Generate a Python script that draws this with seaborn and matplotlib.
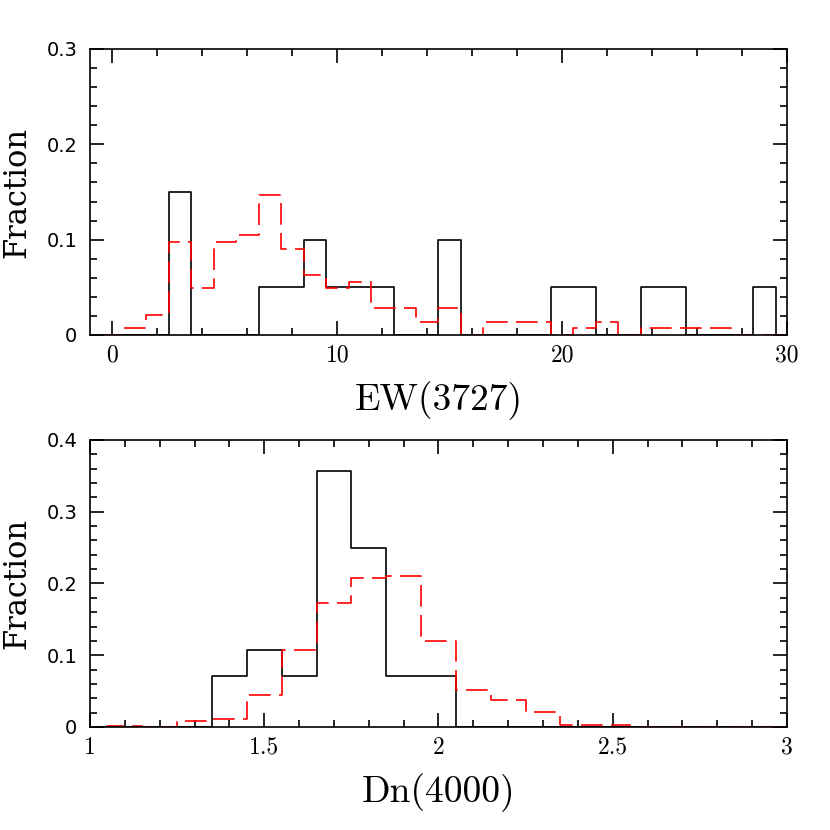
import numpy as np
import pandas as pd
import matplotlib
matplotlib.use('Agg')
import matplotlib.pyplot as plt
from matplotlib.ticker import MultipleLocator, FuncFormatter
import seaborn as sns

# EW(3727) histogram, unit bins centred on 0..30
ew_centers = list(range(0, 31))
ew_sample = [0, 0, 0, 0.15, 0, 0, 0, 0.05, 0.05, 0.1, 0.05, 0.05, 0.05, 0, 0, 0.1,
             0, 0, 0, 0, 0.05, 0.05, 0, 0, 0.05, 0.05, 0, 0, 0, 0.05, 0]
ew_parent = [0, 0.007, 0.021, 0.098, 0.049, 0.098, 0.105, 0.147, 0.090, 0.063, 0.049,
             0.056, 0.028, 0.028, 0.014, 0.028, 0, 0.014, 0.014, 0.014, 0, 0.007,
             0.014, 0, 0.007, 0.007, 0.007, 0.007, 0, 0, 0]

# Dn(4000) histogram, bins of 0.1 centred on 1.0..3.0
dn_centers = [1.0, 1.1, 1.2, 1.3, 1.4, 1.5, 1.6, 1.7, 1.8, 1.9, 2.0,
              2.1, 2.2, 2.3, 2.4, 2.5, 2.6, 2.7, 2.8, 2.9, 3.0]
dn_sample = [0, 0, 0, 0, 0.0714, 0.107, 0.0714, 0.357, 0.25, 0.0714, 0.0714,
             0, 0, 0, 0, 0, 0, 0, 0, 0, 0]
dn_parent = [0, 0.002, 0, 0.009, 0.011, 0.045, 0.107, 0.173, 0.207, 0.21, 0.12,
             0.052, 0.038, 0.021, 0.003, 0.003, 0, 0, 0, 0, 0]

sns.set_style('ticks')
plt.rcParams['font.family'] = ['DejaVu Sans']
plt.rcParams['xtick.direction'] = 'in'
plt.rcParams['ytick.direction'] = 'in'
for key in ['text.color', 'axes.labelcolor', 'xtick.color', 'ytick.color', 'axes.edgecolor']:
    plt.rcParams[key] = 'black'

fig = plt.figure(figsize=(8.3, 8.3), dpi=100)
ax1 = fig.add_axes([0.1084, 0.5964, 0.8398, 0.3446])
ax2 = fig.add_axes([0.1084, 0.1241, 0.8398, 0.3458])

fmt = FuncFormatter(lambda v, p: '%g' % round(v, 3))


def draw(ax, centers, sample, parent, width, xlabel):
    rng = (centers[0] - width / 2, centers[-1] + width / 2)
    df = pd.DataFrame({'x': centers, 'sample': sample, 'parent': parent})
    sns.histplot(data=df, x='x', weights='sample', binwidth=width, binrange=rng,
                 element='step', fill=False, color='black', linewidth=1.2, ax=ax)
    sns.histplot(data=df, x='x', weights='parent', binwidth=width, binrange=rng,
                 element='step', fill=False, color='red', linewidth=1.2,
                 linestyle=(0, (13, 5)), ax=ax)
    ax.tick_params(which='both', top=True, right=True, width=1.2)
    ax.tick_params(which='major', length=10)
    ax.tick_params(which='minor', length=5)
    ax.tick_params(axis='y', labelsize=14, pad=9)
    ax.tick_params(axis='x', labelsize=17, pad=7)
    ax.xaxis.set_major_formatter(fmt)
    ax.yaxis.set_major_formatter(fmt)
    ax.set_ylabel('Fraction', fontsize=22, family='DejaVu Serif')
    ax.yaxis.set_label_coords(-0.082, 0.5)
    ax.set_xlabel(xlabel, fontsize=27, family='cmr10')
    ax.xaxis.set_label_coords(0.5, -0.16)
    for s in ax.spines.values():
        s.set_linewidth(1.2)


draw(ax1, ew_centers, ew_sample, ew_parent, 1.0, 'EW(3727)')
ax1.set_xlim(-1, 30)
ax1.set_ylim(0, 0.3)
ax1.xaxis.set_major_locator(MultipleLocator(10))
ax1.xaxis.set_minor_locator(MultipleLocator(2))
ax1.yaxis.set_major_locator(MultipleLocator(0.1))
ax1.yaxis.set_minor_locator(MultipleLocator(0.02))

draw(ax2, dn_centers, dn_sample, dn_parent, 0.1, 'Dn(4000)')
ax2.set_xlim(1, 3)
ax2.set_ylim(0, 0.4)
ax2.xaxis.set_major_locator(MultipleLocator(0.5))
ax2.xaxis.set_minor_locator(MultipleLocator(0.1))
ax2.yaxis.set_major_locator(MultipleLocator(0.1))
ax2.yaxis.set_minor_locator(MultipleLocator(0.02))

for ax in (ax1, ax2):
    for lab in ax.get_xticklabels():
        lab.set_family('cmr10')

fig.savefig('out.png', dpi=100)
